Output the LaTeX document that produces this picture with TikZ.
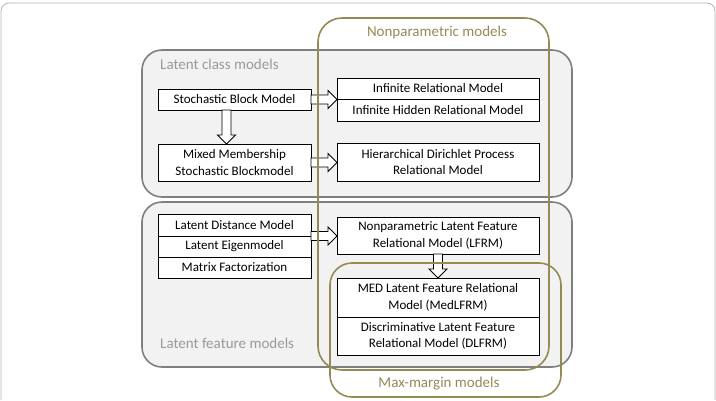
\documentclass[tikz,border=0pt]{standalone}
\usepackage{fontspec}
\setmainfont{Carlito}
\usetikzlibrary{positioning,calc}
\definecolor{tanline}{HTML}{948A54}
\definecolor{groupline}{HTML}{7F7F7F}
\definecolor{groupfill}{HTML}{F2F2F2}
\definecolor{grouptext}{HTML}{9A9A9A}
\tikzset{
 group/.style={draw=groupline,fill=groupfill,line width=1.6pt,rounded corners=20pt},
 family/.style={draw=tanline,line width=1.6pt,rounded corners=24pt},
 grouplabel/.style={text=grouptext,font=\fontsize{15}{18}\selectfont,inner sep=0pt},
 familylabel/.style={text=tanline,font=\fontsize{15}{18}\selectfont,inner sep=0pt},
 model/.style={draw,fill=white,line width=0.9pt,outer sep=0pt,inner sep=0pt,align=center,
  font=\fontsize{13}{16.5}\selectfont},
 lmodel/.style={model,minimum width=153pt},
 rmodel/.style={model,minimum width=202pt},
 hollow/.style={draw,fill=white,line width=0.9pt,line join=miter,
  to path={($(\tikztostart)!4.5pt!90:(\tikztotarget)$)
   -- ($(\tikztotarget)!9pt!(\tikztostart)!4.5pt!-90:(\tikztostart)$)
   -- ($(\tikztotarget)!9pt!(\tikztostart)!9pt!-90:(\tikztostart)$)
   -- (\tikztotarget)
   -- ($(\tikztotarget)!9pt!(\tikztostart)!9pt!90:(\tikztostart)$)
   -- ($(\tikztotarget)!9pt!(\tikztostart)!4.5pt!90:(\tikztostart)$)
   -- ($(\tikztostart)!4.5pt!-90:(\tikztotarget)$) -- cycle}},
}
\begin{document}
\begin{tikzpicture}[x=1pt,y=-1pt]
 \useasboundingbox (0,0) rectangle (716,400);
 % frame
 \draw [gray!60,line width=0.8pt,rounded corners=8pt] (1,400) -- (1,3) -- (715,3) -- (715,400);
 % latent class / latent feature groups
 \draw [group] (142,50) rectangle (572,197);
 \draw [group] (142,202) rectangle (572,367);
 \node [grouplabel,anchor=west] (classlbl) at (160,64) {Latent class models};
 \node [grouplabel,anchor=west] (featurelbl) at (160,343) {Latent feature models};
 % models
 \node [lmodel,minimum height=21pt] (sbm) at (234.5,99.5) {Stochastic Block Model};
 \node [lmodel,minimum height=37pt] (mmsb) at (234.5,162.5) {Mixed Membership\\Stochastic Blockmodel};
 \node [rmodel,minimum height=21pt] (irm) at (438,88.5) {Infinite Relational Model};
 \node [rmodel,minimum height=22pt,below=0pt of irm] (ihrm) {Infinite Hidden Relational Model};
 \node [rmodel,minimum height=38pt] (hdp) at (438,162) {Hierarchical Dirichlet Process\\Relational Model};
 \node [lmodel,minimum height=22pt] (ldm) at (234.5,225) {Latent Distance Model};
 \node [lmodel,minimum height=21pt,below=0pt of ldm] (eigen) {Latent Eigenmodel};
 \node [lmodel,minimum height=21pt,below=0pt of eigen] (mf) {Matrix Factorization};
 \node [rmodel,minimum height=37pt] (lfrm) at (438,235.5) {Nonparametric Latent Feature\\Relational Model (LFRM)};
 \node [rmodel,minimum height=39pt] (medlfrm) at (438,297.5) {MED Latent Feature Relational\\Model (MedLFRM)};
 \node [rmodel,minimum height=38pt,below=0pt of medlfrm] (dlfrm) {Discriminative Latent Feature\\Relational Model (DLFRM)};
 % arrows
 \draw [hollow] (sbm.east) to (sbm.east -| irm.west);
 \draw [hollow] ([xshift=-8pt]sbm.south) to ([xshift=-8pt]sbm.south |- mmsb.north);
 \draw [hollow] (mmsb.east) to (mmsb.east -| hdp.west);
 \draw [hollow] (ldm.south east) to (ldm.south east -| lfrm.west);
 \draw [hollow] (lfrm.south) to (medlfrm.north);
 % nonparametric / max-margin families
 \draw [family] (318,18) rectangle (549,370);
 \draw [family,rounded corners=22pt] (330,263) rectangle (561,397);
 \node [familylabel] (nplbl) at (437,32) {Nonparametric models};
 \node [familylabel] (mmlbl) at (439,384) {Max-margin models};
\end{tikzpicture}
\end{document}
